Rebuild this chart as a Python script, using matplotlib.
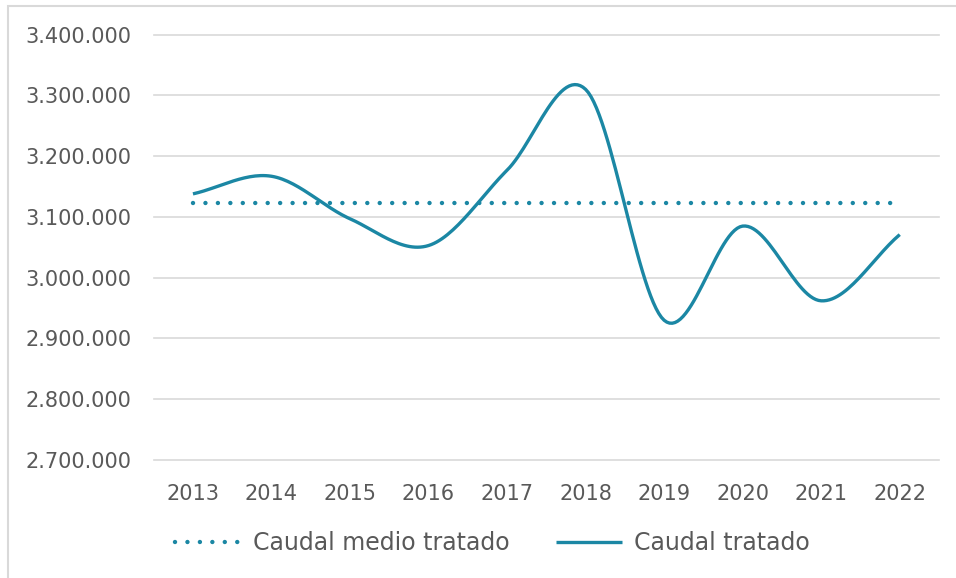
import numpy as np
import matplotlib.pyplot as plt
from matplotlib.patches import Rectangle

# data
years = ["2013", "2014", "2015", "2016", "2017", "2018", "2019", "2020", "2021", "2022"]
caudal_tratado = [3138000, 3167000, 3097000, 3053000, 3177000, 3310000, 2930000, 3085000, 2962000, 3071000]
caudal_medio = [3122500] * len(years)

TEAL = "#1b87a4"
GREY = "#595959"
GRID = "#d9d9d9"


def smooth(xs, ys, n=30):
    # Catmull-Rom spline through the points, close to Excel's smoothed line
    xs = np.asarray(xs, float)
    ys = np.asarray(ys, float)
    px = np.concatenate([[2 * xs[0] - xs[1]], xs, [2 * xs[-1] - xs[-2]]])
    py = np.concatenate([[2 * ys[0] - ys[1]], ys, [2 * ys[-1] - ys[-2]]])
    out_x, out_y = [], []
    t = np.linspace(0, 1, n)
    for i in range(1, len(px) - 2):
        for p, out in ((px, out_x), (py, out_y)):
            p0, p1, p2, p3 = p[i - 1], p[i], p[i + 1], p[i + 2]
            seg = 0.5 * ((2 * p1) + (-p0 + p2) * t + (2 * p0 - 5 * p1 + 4 * p2 - p3) * t ** 2
                         + (-p0 + 3 * p1 - 3 * p2 + p3) * t ** 3)
            out.extend(seg)
    return np.array(out_x), np.array(out_y)


fig = plt.figure(figsize=(9.56, 5.78), dpi=100)
ax = fig.add_axes([153.7 / 956, 1 - 460 / 578, (939 - 153.7) / 956, (460 - 34.7) / 578])

x = np.arange(len(years))
sx, sy = smooth(x, caudal_tratado)
ax.plot(x, caudal_medio, color=TEAL, lw=3.2, linestyle=(0, (0.001, 2.8)),
        dash_capstyle="round", label="Caudal medio tratado")
ax.plot(sx, sy, color=TEAL, lw=2.4, solid_capstyle="butt", label="Caudal tratado")

ax.set_xlim(-0.5, len(years) - 0.5)
ax.set_ylim(2700000, 3400000)
ax.set_yticks(np.arange(2700000, 3400001, 100000))
ax.set_yticklabels([f"{v:,.0f}".replace(",", ".") for v in np.arange(2700000, 3400001, 100000)])
ax.set_xticks(x)
ax.set_xticklabels(years)
ax.tick_params(length=0, labelsize=15, colors=GREY)
ax.tick_params(axis="x", pad=17)
ax.tick_params(axis="y", pad=16)
ax.grid(True, axis="y", color=GRID, lw=1.2)
for gl in ax.get_ygridlines():
    gl.set_clip_on(False)
ax.set_axisbelow(True)
for s in ax.spines.values():
    s.set_visible(False)

fig.legend(loc="center", bbox_to_anchor=(0.515, 1 - 543 / 578), ncol=2, frameon=False,
           fontsize=17, labelcolor=GREY, handlelength=2.8, handletextpad=0.5,
           columnspacing=2.0)

# light chart border
fig.patches.append(Rectangle((8 / 956, -0.1), 1.2, 1 - 6 / 578 + 0.1, transform=fig.transFigure,
                             fill=False, edgecolor=GRID, lw=1.5))

fig.savefig("out.png", dpi=100)
